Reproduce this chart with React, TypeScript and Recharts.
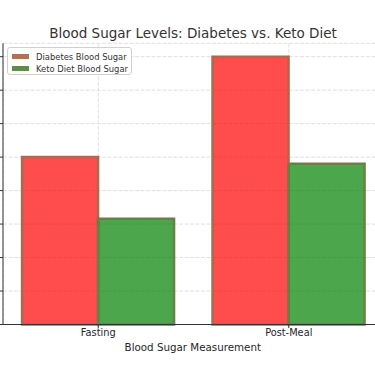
import * as React from "react";
import { Bar, BarChart, CartesianGrid, XAxis, YAxis } from "recharts";

const categories = ["Fasting", "Post-Meal"];
const diabetesValues = [125, 200];
const ketoValues = [79, 120];
const yTicks = [0, 25, 50, 75, 100, 125, 150, 175, 200];

const seriesNames = ["Diabetes Blood Sugar", "Keto Diet Blood Sugar"];

const FONT = "'DejaVu Sans', sans-serif";

const data = categories.map((name, i) => ({
  name,
  diabetes: diabetesValues[i],
  keto: ketoValues[i],
}));

function CategoryTick({ x, y, payload }: { x?: number; y?: number; payload?: { value: string } }) {
  return (
    <text
      x={x}
      y={(y ?? 0) + 6}
      textAnchor="middle"
      fontFamily={FONT}
      fontSize={9.8}
      fill="#262626"
    >
      {payload?.value}
    </text>
  );
}

// y tick labels sit left of the crop in the reference, so only the tick marks show
const EmptyTick = () => <g />;

function AxisTitle({ viewBox }: { viewBox?: { x: number; y: number; width: number; height: number } }) {
  if (!viewBox) return null;
  return (
    <text
      x={viewBox.x + viewBox.width / 2 - 0.7}
      y={viewBox.y + 26}
      textAnchor="middle"
      fontFamily={FONT}
      fontSize={10.3}
      fill="#262626"
    >
      Blood Sugar Measurement
    </text>
  );
}

const legendSwatches = ["#b0724f", "#5f8c4a"];

export default function App() {
  return (
    <div
      style={{
        position: "absolute",
        left: 0,
        top: 0,
        width: 375,
        height: 366,
        overflow: "hidden",
        background: "#fff",
        fontFamily: FONT,
      }}
    >
      <div
        style={{
          position: "absolute",
          left: 0,
          width: 386,
          top: 25,
          textAlign: "center",
          fontSize: 13.5,
          color: "#333",
          lineHeight: "16px",
        }}
      >
        Blood Sugar Levels: Diabetes vs. Keto Diet
      </div>
      <BarChart
        width={384}
        height={366}
        data={data}
        margin={{ top: 43.3, right: 0, bottom: 0, left: 0 }}
        barCategoryGap="10%"
        barGap={0}
      >
        <CartesianGrid stroke="#e0e0e0" strokeDasharray="4 1.5" />
        <XAxis
          dataKey="name"
          height={41.5}
          stroke="#333"
          tickSize={3.5}
          tick={<CategoryTick />}
          label={<AxisTitle />}
        />
        <YAxis
          width={3}
          domain={[0, 210]}
          ticks={yTicks}
          stroke="#333"
          tickSize={3.5}
          tick={<EmptyTick />}
        />
        <Bar
          dataKey="diabetes"
          name={seriesNames[0]}
          fill="#ff0000"
          fillOpacity={0.7}
          stroke="#a86b4c"
          strokeWidth={2.5}
          isAnimationActive={false}
        />
        <Bar
          dataKey="keto"
          name={seriesNames[1]}
          fill="#008000"
          fillOpacity={0.7}
          stroke="#6a7f46"
          strokeWidth={2.5}
          isAnimationActive={false}
        />
      </BarChart>
      <div
        style={{
          position: "absolute",
          left: 7,
          top: 47,
          width: 123,
          height: 26,
          border: "1px solid #d0d0d0",
          borderRadius: 3,
          background: "rgba(255,255,255,0.85)",
          fontSize: 8.4,
          color: "#333",
        }}
      >
        {seriesNames.map((n, i) => (
          <div
            key={n}
            style={{
              position: "absolute",
              left: 4,
              top: 3 + i * 12.3,
              height: 11,
              display: "flex",
              alignItems: "center",
              whiteSpace: "nowrap",
            }}
          >
            <span
              style={{
                display: "inline-block",
                width: 17,
                height: 5,
                background: legendSwatches[i],
                marginRight: 7,
              }}
            />
            {n}
          </div>
        ))}
      </div>
    </div>
  );
}
